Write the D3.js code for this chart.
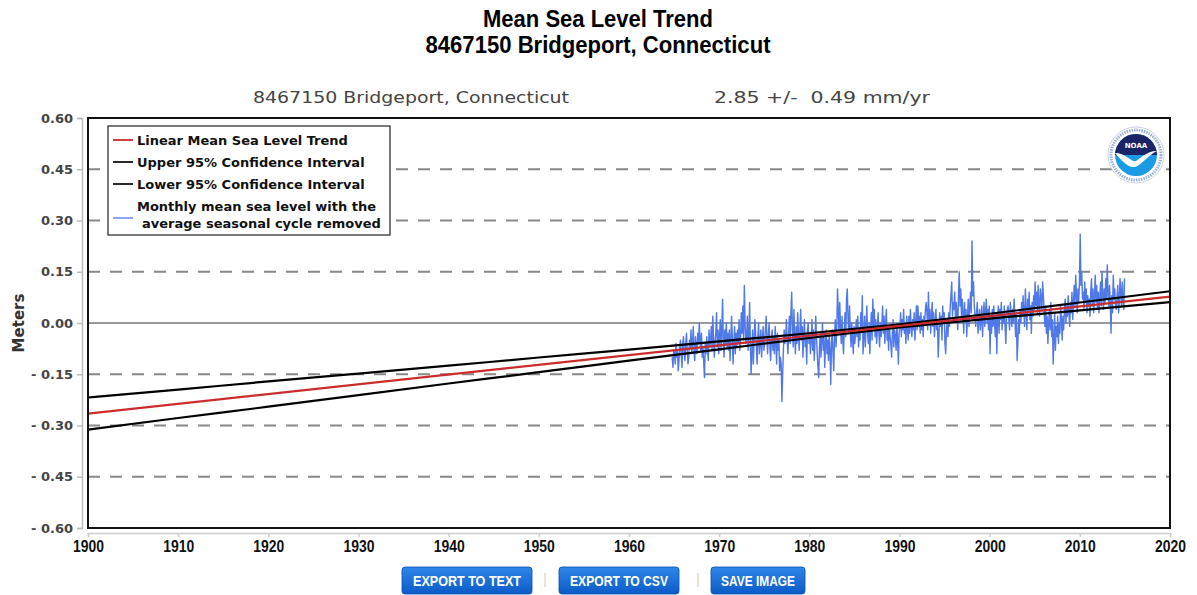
<!DOCTYPE html>
<html>
<head>
<meta charset="utf-8">
<script src="https://cdn.jsdelivr.net/npm/d3@7"></script>
<style>
  html, body { margin: 0; padding: 0; background: #fff; }
  svg { display: block; }
  .narrow { font-family: "Liberation Sans Narrow", "Arial Narrow", "Liberation Sans", Arial, sans-serif; font-weight: bold; }
  .dv { font-family: "DejaVu Sans", Verdana, sans-serif; }
</style>
</head>
<body>
<svg id="chart" width="1197" height="595"></svg>
<script>
// ---- data ----------------------------------------------------------------
const titleLines = ["Mean Sea Level Trend", "8467150 Bridgeport, Connecticut"];
const stationName = "8467150 Bridgeport, Connecticut";
const trendText = "2.85 +/-  0.49 mm/yr";

const yTicks = [0.60, 0.45, 0.30, 0.15, 0.00, -0.15, -0.30, -0.45, -0.60];
const xTicks = [1900, 1910, 1920, 1930, 1940, 1950, 1960, 1970, 1980, 1990, 2000, 2010, 2020];

// linear trend endpoints (m)
const trendYears = [1900, 2020];
const trendValues = [-0.265, 0.077];

// 95% confidence bounds (m)
const ciYears = [1900, 1910, 1920, 1930, 1940, 1950, 1960, 1970, 1980, 1990, 2000, 2010, 2020];
const ciUpper = [-0.218, -0.195, -0.171, -0.148, -0.125, -0.101, -0.078, -0.054, -0.030, -0.004, 0.027, 0.060, 0.093];
const ciLower = [-0.312, -0.278, -0.245, -0.211, -0.177, -0.144, -0.110, -0.077, -0.044, -0.013, 0.013, 0.037, 0.061];

// monthly mean sea level, seasonal cycle removed (cm), starting Oct 1964
const monthlyStartYear = 1964;
const monthlyStartMonth = 10;
const monthlyCm = [
  -10, -13, -8,
  -9, -12, -6, -10, -8, -14, -11, -7, -5, -9, -13, -6,
  -4, -9, -11, -6, -3, -8, -12, -10, -5, -7, -2, -9,
  -6, -1, -8, -11, -4, -7, -9, -3, -6, 0, -5, -8,
  -3, -10, -7, -12, -16, -6, -9, -4, -8, -11, -2, -7,
  -5, -1, -8, 2, -4, -10, -6, -3, 3, -7, -2, -9,
  -4, 1, -8, -3, 7, -5, -10, -2, -6, 0, -7, -3,
  -8, -2, -11, -5, 2, -4, -12, -6, -1, -9, -3, -7,
  -2, -6, 1, -8, -4, 3, -3, 5, -5, 11, 0, -6,
  -4, 2, -8, -3, 6, -6, -15, -9, -2, -12, -5, 1,
  -3, -7, -12, -4, 0, -9, -6, -2, -10, -5, -1, -8,
  -6, -2, 2, -4, -9, -3, 0, -7, -11, -5, -2, -8,
  -4, -9, -1, -6, -12, -3, -8, -5, -14, -10, -12, -23,
  -15, -8, -2, -6, -4, 1, -5, -9, -3, 2, -6, 3,
  9, -2, -7, 4, -4, -9, -1, -6, 3, -3, -8, -2,
  4, -5, -1, -10, -3, 1, -7, -4, -12, -2, 0, -6,
  -3, -9, -5, 1, -8, -2, -11, -6, 2, -4, -9, -13,
  -16, -7, -3, -10, -5, 0, -8, -4, -13, -6, -2, -9,
  -5, -11, -3, -8, -18, -6, -2, -9, -14, -4, 1, -7,
  -2, 10, 4, -3, 6, -1, -6, 2, -5, -9, -2, 3,
  -4, 7, 10, 1, -3, 5, -2, -7, 0, -5, -9, -1,
  -6, -3, 1, -4, 2, -7, -2, -5, 3, -1, 8, -9,
  -4, 2, -7, -1, 5, -3, -6, 0, -9, -2, 3, -5,
  7, -1, 4, -4, 1, -6, -2, 3, -3, -7, 0, -4,
  -1, 5, -3, 2, -6, 0, 4, -5, -2, -8, -1, -4,
  -6, -10, -3, 1, -7, -2, -4, -8, 0, -5, -12, -3,
  -1, 3, -4, 1, -2, 4, -3, 0, -6, 2, -1, -5,
  2, -3, 4, -1, -4, 1, -2, 3, -5, 0, 5, -2,
  5, -1, 2, -3, 3, -2, 1, -4, 2, 0, 4, 6,
  3, -2, 9, 1, 4, -3, 2, 6, -1, 3, -4, 0,
  4, -2, 1, -10, -4, 3, -1, 2, -5, 5, 0, 3,
  -6, -9, -2, 1, -4, 3, -1, 5, 8, 12, 2, 6,
  4, 9, 1, 6, 3, -2, 8, 15, 5, 10, 2, 7,
  3, -3, 6, 1, 4, -4, 2, 7, -1, 5, 9, 3,
  24, 8, 12, 5, 2, -1, 3, 6, -3, 1, 4, -2,
  1, 5, -4, 2, 6, -1, 3, 7, 0, 4, -2, 5,
  -9, 2, -3, 4, -1, 5, 0, -4, 3, -9, 1, 5,
  -3, 4, 1, 6, -2, 3, 0, 5, -1, -6, 2, 4,
  5, 1, -2, 6, 3, -1, 4, 0, 7, 2, -4, 3,
  -11, -6, 1, -3, 4, 0, 6, 2, 8, 3, -1, 10,
  4, -2, 7, 3, 9, 1, 5, -3, 6, 2, 8, 4,
  12, 5, 9, 3, 11, 6, 2, 10, 7, 4, 12, 8,
  3, -1, 5, -3, 2, -6, 0, 4, -2, 6, -4, 1,
  -12, -5, 3, -8, -1, -4, 2, -6, 0, -3, 5, 1,
  -5, 2, -2, 4, 7, 0, 5, 2, 8, 3, -1, 6,
  3, 9, 1, 6, 11, 5, 14, 8, 3, 10, 6, 12,
  26, 11, 15, 7, 9, 4, 12, 6, 10, 3, 8, 5,
  7, 2, 9, 13, 5, 10, 3, 8, 14, 6, 11, 4,
  9, 3, 7, 12, 5, 15, 8, 4, 10, 6, 13, 7,
  17, 9, 5, 11, 6, -3, 8, 3, 14, 7, 10, 5,
  4, 8, 11, 3, 6, 13, 9, 5, 12, 7, 4, 13
];

const legendItems = [
  { label: ["Linear Mean Sea Level Trend"], color: "#cc2b2b" },
  { label: ["Upper 95% Confidence Interval"], color: "#111" },
  { label: ["Lower 95% Confidence Interval"], color: "#111" },
  { label: ["Monthly mean sea level with the", "average seasonal cycle removed"], color: "#7f9cf0" }
];

const buttons = ["EXPORT TO TEXT", "EXPORT TO CSV", "SAVE IMAGE"];

// ---- layout ----------------------------------------------------------------
const svg = d3.select("#chart");
const plot = { left: 88, right: 1170, top: 118, bottom: 528 };

const x = d3.scaleLinear().domain([1900, 2020]).range([plot.left, plot.right]);
const y = d3.scaleLinear().domain([-0.6, 0.6]).range([plot.bottom, plot.top]);

// titles (condensed bold)
const titleWidths = [230, 345];
svg.append("g").selectAll("text").data(titleLines).join("text")
  .attr("class", "narrow")
  .attr("x", 598).attr("y", (d, i) => 27 + i * 26)
  .attr("text-anchor", "middle")
  .attr("font-size", 23)
  .attr("fill", "#000")
  .attr("textLength", (d, i) => titleWidths[i]).attr("lengthAdjust", "spacingAndGlyphs")
  .text(d => d);

svg.append("text").attr("class", "dv")
  .attr("x", 411).attr("y", 103).attr("text-anchor", "middle")
  .attr("font-size", 16.5).attr("fill", "#444")
  .attr("textLength", 316).attr("lengthAdjust", "spacingAndGlyphs")
  .text(stationName);
svg.append("text").attr("class", "dv")
  .attr("x", 822).attr("y", 103).attr("text-anchor", "middle")
  .attr("font-size", 16.5).attr("fill", "#444")
  .attr("textLength", 216).attr("lengthAdjust", "spacingAndGlyphs")
  .style("white-space", "pre")
  .text(trendText);

// outer y axis (light gray) with ticks and labels
const yAxis = svg.append("g").attr("transform", `translate(${plot.left - 6},0)`)
  .call(d3.axisLeft(y).tickValues(yTicks).tickSize(5).tickPadding(4)
    .tickFormat(d => (d < 0 ? "- " : "") + d3.format(".2f")(Math.abs(d))));
yAxis.select(".domain").attr("stroke", "#bbb").attr("stroke-width", 1.5);
yAxis.selectAll(".tick line").attr("stroke", "#bbb").attr("stroke-width", 1.5);
yAxis.selectAll(".tick text").attr("class", "dv")
  .attr("font-size", 13).attr("font-weight", "bold").attr("fill", "#444");

// outer x axis
const xAxis = svg.append("g").attr("transform", `translate(0,${plot.bottom + 5})`)
  .call(d3.axisBottom(x).tickValues(xTicks).tickSize(4).tickPadding(3).tickFormat(d3.format("d")));
xAxis.select(".domain").attr("stroke", "#ccc").attr("stroke-width", 1.5);
xAxis.selectAll(".tick line").attr("stroke", "#ccc").attr("stroke-width", 1.5);
xAxis.selectAll(".tick text").attr("class", "narrow")
  .attr("font-size", 17).attr("fill", "#111")
  .attr("textLength", 31).attr("lengthAdjust", "spacingAndGlyphs");

// y label
svg.append("text").attr("class", "dv")
  .attr("transform", `translate(24,${y(0)}) rotate(-90)`)
  .attr("text-anchor", "middle").attr("font-size", 15).attr("font-weight", "bold").attr("fill", "#333")
  .text("Meters");

// plot background
svg.append("rect")
  .attr("x", plot.left).attr("y", plot.top)
  .attr("width", plot.right - plot.left).attr("height", plot.bottom - plot.top)
  .attr("fill", "#fff");

// gridlines
const grid = svg.append("g");
grid.selectAll("line").data(yTicks).join("line")
  .attr("x1", plot.left).attr("x2", plot.right)
  .attr("y1", d => y(d)).attr("y2", d => y(d))
  .attr("stroke", d => d === 0 ? "#999" : "#888")
  .attr("stroke-width", 2)
  .attr("stroke-dasharray", d => d === 0 ? null : "12,10");

svg.append("defs").append("clipPath").attr("id", "plotclip")
  .append("rect").attr("x", plot.left).attr("y", plot.top)
  .attr("width", plot.right - plot.left).attr("height", plot.bottom - plot.top);

const layer = svg.append("g").attr("clip-path", "url(#plotclip)");

// monthly series
const monthly = monthlyCm.map((v, i) => ({
  t: monthlyStartYear + (monthlyStartMonth - 1 + i + 0.5) / 12,
  v: v / 100
}));
layer.append("path").datum(monthly)
  .attr("fill", "none").attr("stroke", "#4f78e8").attr("stroke-width", 1.4)
  .attr("stroke-linejoin", "round")
  .attr("d", d3.line().x(d => x(d.t)).y(d => y(d.v)));

// confidence bounds
const ciLine = d3.line().curve(d3.curveNatural).x(d => x(d[0])).y(d => y(d[1]));
[ciUpper, ciLower].forEach(arr => {
  layer.append("path").datum(ciYears.map((yr, i) => [yr, arr[i]]))
    .attr("fill", "none").attr("stroke", "#000").attr("stroke-width", 2.2)
    .attr("d", ciLine);
});

// trend line
layer.append("path").datum(trendYears.map((yr, i) => [yr, trendValues[i]]))
  .attr("fill", "none").attr("stroke", "#cc2b2b").attr("stroke-width", 2.2)
  .attr("d", d3.line().x(d => x(d[0])).y(d => y(d[1])));

// frame
svg.append("rect")
  .attr("x", plot.left).attr("y", plot.top)
  .attr("width", plot.right - plot.left).attr("height", plot.bottom - plot.top)
  .attr("fill", "none").attr("stroke", "#111").attr("stroke-width", 2);

// legend
const lg = svg.append("g").attr("transform", "translate(108,126)");
lg.append("rect").attr("width", 282).attr("height", 109)
  .attr("fill", "#fff").attr("stroke", "#222").attr("stroke-width", 1.2);
let rowY = 14;
legendItems.forEach(item => {
  const g = lg.append("g").attr("transform", `translate(0,${rowY})`);
  g.append("line").attr("x1", 5).attr("x2", 25).attr("y1", item.label.length > 1 ? 12 : 0)
    .attr("y2", item.label.length > 1 ? 12 : 0)
    .attr("stroke", item.color).attr("stroke-width", 1.8);
  item.label.forEach((ln, j) => {
    g.append("text").attr("class", "dv")
      .attr("x", j === 0 ? 29 : 34).attr("y", j * 17 + 5)
      .attr("font-size", 13).attr("font-weight", "bold").attr("fill", "#111")
      .text(ln);
  });
  rowY += 22;
});

// NOAA emblem
const logo = svg.append("g").attr("transform", "translate(1136,155)");
logo.append("circle").attr("r", 28).attr("fill", "#fff").attr("stroke", "#c8d4e8").attr("stroke-width", 1);
logo.append("circle").attr("r", 25).attr("fill", "none").attr("stroke", "#9db0d6").attr("stroke-width", 3).attr("stroke-dasharray", "1.5,1");
logo.append("circle").attr("r", 21).attr("fill", "#1a9be3");
logo.append("path")
  .attr("d", d3.arc()({ innerRadius: 0, outerRadius: 21, startAngle: -Math.PI / 2, endAngle: Math.PI / 2 }))
  .attr("fill", "#1b2466");
// gull shape
logo.append("path")
  .attr("d", "M-21,-2 C-10,-2 -4,8 0,6 C4,4 10,-4 21,-4 C12,0 6,10 -1,12 C-8,13 -14,6 -21,-2 Z")
  .attr("fill", "#fff");
logo.append("text").attr("class", "dv").attr("y", -7).attr("text-anchor", "middle")
  .attr("font-size", 7).attr("font-weight", "bold").attr("fill", "#fff").text("NOAA");

// export buttons
const btnX = [402, 559, 711];
const btnW = [130, 120, 94];
const btnTextW = [108, 98, 74];
const defs = svg.select("defs");
const grad = defs.append("linearGradient").attr("id", "btngrad").attr("x1", 0).attr("y1", 0).attr("x2", 0).attr("y2", 1);
grad.append("stop").attr("offset", "0%").attr("stop-color", "#2f86e8");
grad.append("stop").attr("offset", "100%").attr("stop-color", "#0b5bc8");
const bg = svg.append("g");
buttons.forEach((b, i) => {
  bg.append("rect").attr("x", btnX[i]).attr("y", 567).attr("width", btnW[i]).attr("height", 27)
    .attr("rx", 3).attr("fill", "url(#btngrad)").attr("stroke", "#0a4fb0").attr("stroke-width", 0.8);
  bg.append("text").attr("class", "narrow")
    .attr("x", btnX[i] + btnW[i] / 2).attr("y", 586).attr("text-anchor", "middle")
    .attr("font-size", 14).attr("fill", "#fff")
    .attr("textLength", btnTextW[i]).attr("lengthAdjust", "spacingAndGlyphs")
    .text(b);
});
[545, 698].forEach(sx => {
  bg.append("line").attr("x1", sx).attr("x2", sx).attr("y1", 573).attr("y2", 587)
    .attr("stroke", "#d9c4a8").attr("stroke-width", 1);
});
</script>
</body>
</html>
